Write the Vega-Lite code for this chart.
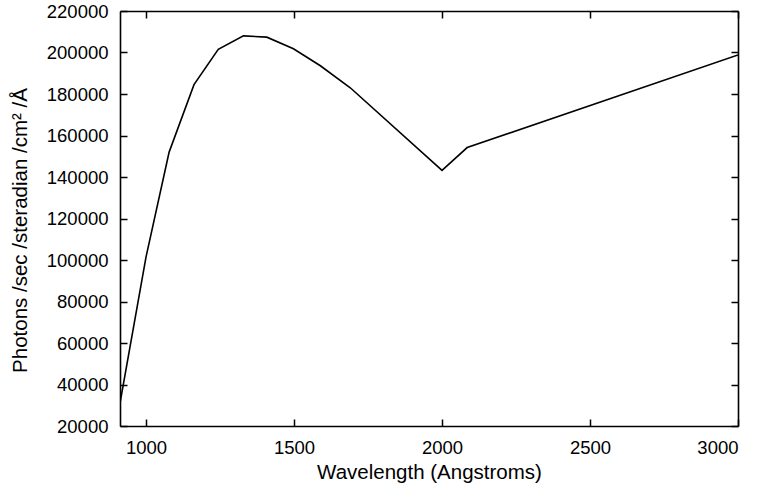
{
  "$schema": "https://vega.github.io/schema/vega-lite/v6.json",
  "autosize": {"type": "none"},
  "padding": {"left": 120, "top": 11, "right": 21, "bottom": 65},
  "width": 618,
  "height": 415,
  "background": "white",
  "config": {
    "view": {"stroke": null},
    "font": "Liberation Sans",
    "axis": {
      "grid": false,
      "domainColor": "black",
      "domainWidth": 1.6,
      "tickColor": "black",
      "tickWidth": 1.5,
      "tickSize": -7,
      "labelColor": "black",
      "titleColor": "black",
      "labelFont": "Liberation Sans",
      "titleFont": "Liberation Sans",
      "labelFontSize": 18.5,
      "titleFontSize": 20,
      "titleFontWeight": "normal"
    }
  },
  "data": {
    "values": [
      {"w": 912, "p": 31000},
      {"w": 1000, "p": 101500},
      {"w": 1078, "p": 152000},
      {"w": 1162, "p": 184500},
      {"w": 1244, "p": 201500},
      {"w": 1329, "p": 208000},
      {"w": 1408, "p": 207400},
      {"w": 1498, "p": 201800},
      {"w": 1589, "p": 193600},
      {"w": 1690, "p": 183000},
      {"w": 2000, "p": 143200},
      {"w": 2085, "p": 154200},
      {"w": 3000, "p": 198800}
    ]
  },
  "layer": [
    {
      "mark": {"type": "line", "color": "black", "strokeWidth": 1.6, "clip": true},
      "encoding": {
        "x": {
          "field": "w", "type": "quantitative",
          "scale": {"domain": [912, 3000], "nice": false, "zero": false},
          "axis": {"title": "Wavelength (Angstroms)", "titleFontSize": 20.5, "values": [1000, 1500, 2000, 2500, 3000], "labelPadding": 19, "titlePadding": 6, "format": "d"}
        },
        "y": {
          "field": "p", "type": "quantitative",
          "scale": {"domain": [20000, 220000], "nice": false, "zero": false},
          "axis": {"title": "Photons /sec /steradian /cm² /Å", "titleFontSize": 20.5, "titleY": 219, "values": [20000,40000,60000,80000,100000,120000,140000,160000,180000,200000,220000], "labelPadding": 19, "titlePadding": 16, "format": "d"}
        }
      }
    },
    {
      "mark": {"type": "line", "opacity": 0},
      "encoding": {
        "x": {
          "field": "w", "type": "quantitative",
          "scale": {"domain": [912, 3000], "nice": false, "zero": false},
          "axis": {"orient": "top", "title": null, "labels": false, "values": [1000, 1500, 2000, 2500, 3000]}
        },
        "y": {
          "field": "p", "type": "quantitative",
          "scale": {"domain": [20000, 220000], "nice": false, "zero": false},
          "axis": {"orient": "right", "title": null, "labels": false, "values": [20000,40000,60000,80000,100000,120000,140000,160000,180000,200000,220000]}
        }
      }
    }
  ],
  "resolve": {"axis": {"x": "independent", "y": "independent"}}
}
